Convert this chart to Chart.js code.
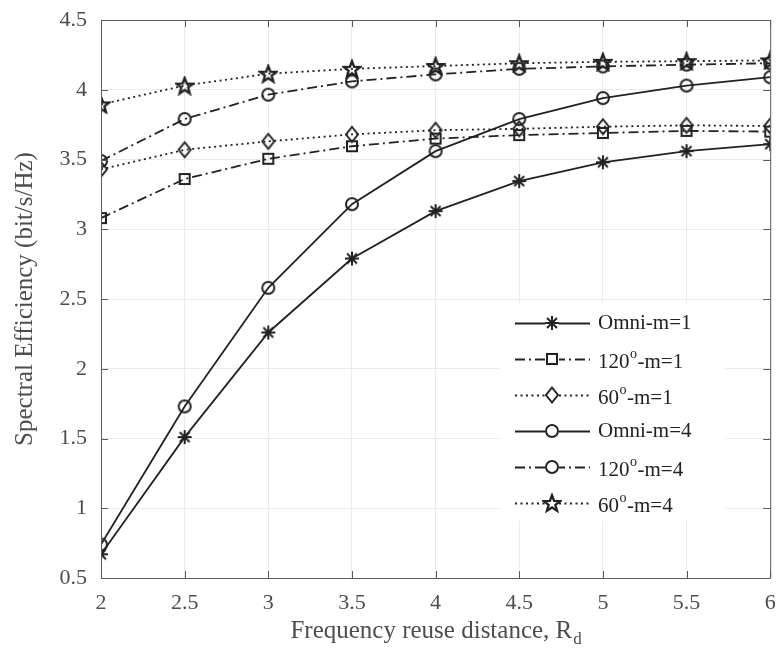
<!DOCTYPE html>
<html>
<head>
<meta charset="utf-8">
<script src="https://cdn.jsdelivr.net/npm/chart.js@4/dist/chart.umd.min.js"></script>
<style>
  html, body { margin: 0; padding: 0; background: #ffffff; }
  #wrap { width: 779px; height: 659px; }
</style>
</head>
<body>
<div id="wrap"><canvas id="seChart" width="779" height="659"></canvas></div>
<script>
// Data
const reuseDistance = [2, 2.5, 3, 3.5, 4, 4.5, 5, 5.5, 6];
const omniM1 = [0.67, 1.51, 2.26, 2.79, 3.13, 3.345, 3.48, 3.56, 3.61];
const sector120M1 = [3.08, 3.36, 3.505, 3.595, 3.65, 3.675, 3.69, 3.705, 3.70];
const sector60M1 = [3.43, 3.57, 3.63, 3.68, 3.71, 3.72, 3.735, 3.745, 3.74];
const omniM4 = [0.74, 1.73, 2.58, 3.18, 3.56, 3.79, 3.94, 4.03, 4.09];
const sector120M4 = [3.49, 3.79, 3.965, 4.06, 4.11, 4.15, 4.167, 4.18, 4.19];
const sector60M4 = [3.895, 4.03, 4.115, 4.15, 4.17, 4.19, 4.20, 4.205, 4.21];
const seriesLabels = ['Omni-m=1', '120°-m=1', '60°-m=1', 'Omni-m=4', '120°-m=4', '60°-m=4'];
const xTicks = [2, 2.5, 3, 3.5, 4, 4.5, 5, 5.5, 6];
const yTicks = [0.5, 1, 1.5, 2, 2.5, 3, 3.5, 4, 4.5];

const ink = '#222222';
const textGray = '#4d4d4d';
const serif = '"Liberation Serif", "Times New Roman", serif';

// small canvases used as markers (chart and legend)
function makeMarker(kind) {
    const c = document.createElement('canvas');
    c.width = 20;
    c.height = 20;
    const g = c.getContext('2d');
    g.strokeStyle = ink;
    g.lineWidth = 2;
    g.beginPath();
    if (kind === 'asterisk') {
        for (let k = 0; k < 4; k++) {
            const a = k * Math.PI / 4;
            g.moveTo(10 - 7 * Math.cos(a), 10 - 7 * Math.sin(a));
            g.lineTo(10 + 7 * Math.cos(a), 10 + 7 * Math.sin(a));
        }
    } else if (kind === 'square') {
        g.rect(5, 5, 10, 10);
    } else if (kind === 'diamond') {
        g.moveTo(10, 2.5);
        g.lineTo(16, 10);
        g.lineTo(10, 17.5);
        g.lineTo(4, 10);
        g.closePath();
    } else if (kind === 'circle') {
        g.arc(10, 10, 6, 0, Math.PI * 2);
    } else if (kind === 'pentagram') {
        for (let k = 0; k < 10; k++) {
            const r = k % 2 === 0 ? 8.5 : 3.6;
            const a = -Math.PI / 2 + k * Math.PI / 5;
            const px = 10 + r * Math.cos(a);
            const py = 10.8 + r * Math.sin(a);
            if (k === 0) g.moveTo(px, py); else g.lineTo(px, py);
        }
        g.closePath();
        g.lineWidth = 2.4;
    }
    g.stroke();
    return c;
}

const solid = [];
const dashDot = [10, 4, 2, 4];
const dotted = [2, 3.5];

function series(label, values, dash, marker) {
    return {
        label: label,
        data: reuseDistance.map((x, i) => ({ x: x, y: values[i] })),
        borderColor: ink,
        borderWidth: 1.8,
        borderDash: dash,
        pointStyle: makeMarker(marker),
        pointRadius: 7,
        fill: false,
        tension: 0
    };
}

function tickText(v) {
    return String(v);
}

// inward tick marks on all four sides, MATLAB style
const boxTicks = {
    id: 'boxTicks',
    afterDatasetsDraw(chart) {
        const ctx = chart.ctx;
        const a = chart.chartArea;
        const xs = chart.scales.x;
        const ys = chart.scales.y;
        ctx.save();
        ctx.strokeStyle = '#5a5a5a';
        ctx.lineWidth = 1;
        ctx.beginPath();
        xTicks.forEach(v => {
            const px = Math.round(xs.getPixelForValue(v)) + 0.5;
            ctx.moveTo(px, a.bottom); ctx.lineTo(px, a.bottom - 7);
            ctx.moveTo(px, a.top); ctx.lineTo(px, a.top + 7);
        });
        yTicks.forEach(v => {
            const py = Math.round(ys.getPixelForValue(v)) + 0.5;
            ctx.moveTo(a.left, py); ctx.lineTo(a.left + 7, py);
            ctx.moveTo(a.right, py); ctx.lineTo(a.right - 7, py);
        });
        ctx.rect(a.left + 0.5, a.top + 0.5, a.right - a.left, a.bottom - a.top);
        ctx.stroke();
        ctx.restore();
    }
};

// label text with a raised "o" in place of the degree sign
function drawLabel(ctx, text, x, y, size) {
    const parts = text.split('°');
    ctx.textBaseline = 'middle';
    ctx.textAlign = 'left';
    ctx.font = size + 'px ' + serif;
    ctx.fillText(parts[0], x, y);
    if (parts.length > 1) {
        let cx = x + ctx.measureText(parts[0]).width;
        ctx.font = Math.round(size * 0.68) + 'px ' + serif;
        ctx.fillText('o', cx + 0.5, y - 8);
        cx += ctx.measureText('o').width + 1;
        ctx.font = size + 'px ' + serif;
        ctx.fillText(parts[1], cx, y);
    }
}

const legendAndTitles = {
    id: 'legendAndTitles',
    afterDraw(chart) {
        const ctx = chart.ctx;
        const a = chart.chartArea;
        ctx.save();

        // legend box
        ctx.fillStyle = '#ffffff';
        ctx.fillRect(500, 303, 225, 218);
        chart.data.datasets.forEach((ds, i) => {
            const y = 323 + i * 36;
            ctx.strokeStyle = ds.borderColor;
            ctx.lineWidth = ds.borderWidth;
            ctx.setLineDash(ds.borderDash);
            ctx.beginPath();
            ctx.moveTo(515, y + 0.5);
            ctx.lineTo(590, y + 0.5);
            ctx.stroke();
            ctx.setLineDash([]);
            const m = ds.pointStyle;
            ctx.fillStyle = '#ffffff';
            ctx.fillRect(552 - 7, y - 7, 14, 14);
            ctx.drawImage(m, 552 - m.width / 2, y - m.height / 2);
            ctx.fillStyle = ink;
            const shift = ds.label.indexOf('°') >= 0 ? 3 : 0;
            drawLabel(ctx, ds.label, 598, y + shift, 21);
        });

        // axis titles
        ctx.fillStyle = textGray;
        ctx.textBaseline = 'middle';
        ctx.textAlign = 'left';
        const main = 'Frequency reuse distance, R';
        ctx.font = '25px ' + serif;
        const w1 = ctx.measureText(main).width;
        ctx.font = '17px ' + serif;
        const w2 = ctx.measureText('d').width;
        const cx = (a.left + a.right) / 2;
        const startX = cx - (w1 + w2) / 2;
        ctx.font = '25px ' + serif;
        ctx.fillText(main, startX, 631);
        ctx.font = '17px ' + serif;
        ctx.fillText('d', startX + w1 + 1, 640);

        ctx.translate(25, (a.top + a.bottom) / 2);
        ctx.rotate(-Math.PI / 2);
        ctx.textAlign = 'center';
        ctx.font = '25px ' + serif;
        ctx.fillText('Spectral Efficiency (bit/s/Hz)', 0, 0);
        ctx.restore();
    }
};

document.addEventListener('DOMContentLoaded', function() {
    const ctx = document.getElementById('seChart').getContext('2d');

    const data = {
        datasets: [
            series(seriesLabels[0], omniM1, solid, 'asterisk'),
            series(seriesLabels[1], sector120M1, dashDot, 'square'),
            series(seriesLabels[2], sector60M1, dotted, 'diamond'),
            series(seriesLabels[3], omniM4, solid, 'circle'),
            series(seriesLabels[4], sector120M4, dashDot, 'circle'),
            series(seriesLabels[5], sector60M4, dotted, 'pentagram')
        ]
    };

    const config = {
        type: 'line',
        data: data,
        options: {
            responsive: false,
            animation: false,
            layout: { padding: { top: 20, right: 6, left: 0, bottom: 0 } },
            plugins: {
                legend: { display: false },
                tooltip: { enabled: false }
            },
            scales: {
                x: {
                    type: 'linear',
                    min: 2,
                    max: 6,
                    afterBuildTicks: scale => { scale.ticks = xTicks.map(v => ({ value: v })); },
                    afterFit: scale => {
                        scale.height = 81;
                        scale.paddingLeft = 0;
                        scale.paddingRight = 0;
                    },
                    grid: { color: '#ebebeb', lineWidth: 1, drawTicks: false },
                    border: { display: false },
                    ticks: {
                        color: textGray,
                        padding: 12,
                        maxRotation: 0,
                        callback: tickText,
                        font: { family: serif, size: 22 }
                    }
                },
                y: {
                    min: 0.5,
                    max: 4.5,
                    afterBuildTicks: scale => { scale.ticks = yTicks.map(v => ({ value: v })); },
                    afterFit: scale => {
                        scale.width = 101;
                        scale.paddingTop = 0;
                        scale.paddingBottom = 0;
                    },
                    grid: { color: '#ebebeb', lineWidth: 1, drawTicks: false },
                    border: { display: false },
                    ticks: {
                        color: textGray,
                        padding: 14,
                        callback: tickText,
                        font: { family: serif, size: 22 }
                    }
                }
            }
        },
        plugins: [boxTicks, legendAndTitles]
    };

    new Chart(ctx, config);
});
</script>
</body>
</html>
